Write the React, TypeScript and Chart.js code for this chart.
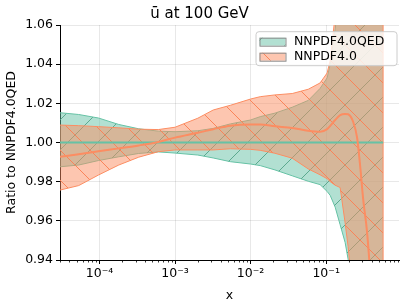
import React, { useEffect, useRef } from 'react';
import { Chart, registerables } from 'chart.js';

Chart.register(...registerables);

const chartTitle = 'ū at 100 GeV';
const xAxisLabel = 'x';
const yAxisLabel = 'Ratio to NNPDF4.0QED';
const seriesLabels = ['NNPDF4.0QED', 'NNPDF4.0'];

const xValues = [
  3.0e-5, 5.3e-5, 9.7e-5, 1.8e-4, 3.3e-4, 6.0e-4, 1.0e-3, 2.0e-3, 3.2e-3, 5.4e-3,
  1.0e-2, 1.34e-2, 2.1e-2, 3.55e-2, 5.8e-2, 8.3e-2, 0.103, 0.113, 0.1315, 0.153,
  0.178, 0.195, 0.2275, 0.257, 0.281, 0.308, 0.348, 0.406, 0.567,
];

const qedUpper = [
  1.0152, 1.0143, 1.0125, 1.0092, 1.007, 1.0058, 1.0055, 1.006, 1.0072, 1.0095,
  1.0115, 1.0132, 1.015, 1.018, 1.0215, 1.0276, 1.033, 1.04, 1.058, 1.08,
  1.1, 1.1, 1.1, 1.1, 1.1, 1.1, 1.1, 1.1, 1.1,
];
const qedLower = [
  0.9876, 0.9885, 0.9908, 0.9927, 0.9944, 0.9952, 0.9946, 0.9936, 0.9921, 0.9902,
  0.989, 0.9882, 0.986, 0.983, 0.9802, 0.9785, 0.975, 0.973, 0.967, 0.958,
  0.949, 0.9405, 0.92, 0.9, 0.9, 0.9, 0.9, 0.9, 0.9,
];
const qedCentralX = [3.0e-5, 0.567];
const qedCentral = [1.0, 1.0];

const nnpdfCentral = [
  0.9927, 0.994, 0.9955, 0.997, 0.9985, 1.0003, 1.0025, 1.005, 1.0068, 1.0086,
  1.0092, 1.0092, 1.0083, 1.0074, 1.006, 1.0055, 1.0068, 1.0085, 1.0115, 1.014,
  1.0146, 1.0144, 1.0106, 1.0023, 0.9885, 0.9715, 0.954, 0.92, 0.85,
];
const nnpdfUpper = [
  1.0089, 1.0086, 1.0081, 1.0075, 1.0068, 1.0066, 1.0078, 1.0124, 1.0166, 1.019,
  1.0222, 1.0234, 1.0243, 1.025, 1.0272, 1.0304, 1.0355, 1.042, 1.065, 1.1,
  1.1, 1.1, 1.1, 1.1, 1.1, 1.1, 1.1, 1.1, 1.1,
];
const nnpdfLower = [
  0.9757, 0.978, 0.9834, 0.9885, 0.9925, 0.9953, 0.9962, 0.9962, 0.9962, 0.9968,
  0.9965, 0.996, 0.9945, 0.992, 0.9865, 0.9835, 0.9815, 0.98, 0.9782, 0.977,
  0.959, 0.947, 0.92, 0.9, 0.9, 0.9, 0.9, 0.9, 0.9,
];

const xMajorTicks = [1e-4, 1e-3, 1e-2, 1e-1];
const xTickLabels = ['10⁻⁴', '10⁻³', '10⁻²', '10⁻¹'];
const xMinorMultipliers = [2, 3, 4, 5, 6, 7, 8, 9];
const yTicks = [0.94, 0.96, 0.98, 1.0, 1.02, 1.04, 1.06];

const X_MIN = 3.0e-5;
const X_MAX = 0.92;
const Y_MIN = 0.94;
const Y_MAX = 1.06;

const FONT = "'DejaVu Sans', sans-serif";
const GREEN = '#66c2a5';
const RED = '#fc8d62';
const GREEN_FILL = 'rgba(102,194,165,0.5)';
const RED_FILL = 'rgba(252,141,98,0.5)';
const GREEN_HATCH = 'rgba(78,160,132,0.85)';
const RED_HATCH = 'rgba(252,130,85,0.95)';
const GRID = 'rgba(0,0,0,0.09)';

function makeHatch(ctx: CanvasRenderingContext2D, fill: string, line: string, rising: boolean) {
  const s = 30;
  const c = document.createElement('canvas');
  c.width = s;
  c.height = s;
  const g = c.getContext('2d')!;
  g.fillStyle = fill;
  g.fillRect(0, 0, s, s);
  g.strokeStyle = line;
  g.lineWidth = 1;
  g.beginPath();
  for (const o of [-s, 0, s]) {
    if (rising) {
      g.moveTo(o, s);
      g.lineTo(o + s, 0);
    } else {
      g.moveTo(o, 0);
      g.lineTo(o + s, s);
    }
  }
  g.stroke();
  return ctx.createPattern(c, 'repeat')!;
}

const pts = (xs: number[], ys: number[]) => xs.map((x, i) => ({ x, y: ys[i] }));

export default function App() {
  const ref = useRef<HTMLCanvasElement>(null);

  useEffect(() => {
    document.body.style.margin = '0';
    const canvas = ref.current!;
    const ctx = canvas.getContext('2d')!;
    const greenPattern = makeHatch(ctx, GREEN_FILL, GREEN_HATCH, true);
    const redPattern = makeHatch(ctx, RED_FILL, RED_HATCH, false);
    const patterns = [greenPattern, redPattern];
    const edgeColors = [GREEN, RED];

    const last = xValues.length - 1;
    const redEdge = [
      { x: xValues[last], y: nnpdfLower[last] },
      { x: xValues[last], y: nnpdfUpper[last] },
    ];

    const legendPlugin = {
      id: 'mplLegend',
      afterDraw(chart: any) {
        const c: CanvasRenderingContext2D = chart.ctx;
        const area = chart.chartArea;
        const right = area.right - 2;
        const w = 141;
        const left = right - w;
        const top = area.top + 6.7;
        const h = 34;
        c.save();
        c.beginPath();
        const r = 3;
        c.moveTo(left + r, top);
        c.lineTo(left + w - r, top);
        c.arcTo(left + w, top, left + w, top + r, r);
        c.lineTo(left + w, top + h - r);
        c.arcTo(left + w, top + h, left + w - r, top + h, r);
        c.lineTo(left + r, top + h);
        c.arcTo(left, top + h, left, top + h - r, r);
        c.lineTo(left, top + r);
        c.arcTo(left, top, left + r, top, r);
        c.closePath();
        c.fillStyle = 'rgba(255,255,255,0.8)';
        c.fill();
        c.strokeStyle = '#cccccc';
        c.lineWidth = 1;
        c.stroke();
        seriesLabels.forEach((label, i) => {
          const cy = top + 10 + i * 15;
          const px = left + 3.5;
          c.fillStyle = '#ffffff';
          c.fillRect(px, cy - 4, 26, 8);
          c.fillStyle = patterns[i];
          c.fillRect(px, cy - 4, 26, 8);
          c.strokeStyle = '#8c8c8c';
          c.lineWidth = 1;
          c.strokeRect(px + 0.5, cy - 3.5, 26, 8);
          c.fillStyle = '#000';
          c.font = `12.5px ${FONT}`;
          c.textAlign = 'left';
          c.textBaseline = 'middle';
          c.fillText(label, left + 38, cy);
        });
        c.restore();
      },
    };

    const minorTickPlugin = {
      id: 'minorTicks',
      afterDraw(chart: any) {
        const sc = chart.scales.x;
        const c: CanvasRenderingContext2D = chart.ctx;
        const bottom = chart.chartArea.bottom;
        c.save();
        c.strokeStyle = '#000';
        c.lineWidth = 0.8;
        sc.ticks.forEach((t: any) => {
          if (t.major) return;
          const x = Math.round(sc.getPixelForValue(t.value)) + 0.5;
          c.beginPath();
          c.moveTo(x, bottom);
          c.lineTo(x, bottom + 2.5);
          c.stroke();
        });
        c.restore();
      },
    };

    const chart = new Chart(canvas, {
      type: 'line',
      data: {
        datasets: [
          {
            label: seriesLabels[1],
            data: pts(xValues, nnpdfCentral),
            borderColor: RED,
            borderWidth: 2,
            cubicInterpolationMode: 'monotone',
            fill: false,
            order: 0,
          },
          {
            label: seriesLabels[0],
            data: pts(qedCentralX, qedCentral),
            borderColor: GREEN,
            borderWidth: 2,
            fill: false,
            order: 1,
          },
          {
            label: seriesLabels[1] + ' edge',
            data: redEdge,
            borderColor: RED,
            borderWidth: 1,
            fill: false,
            order: 2,
          },
          {
            label: seriesLabels[1] + ' upper',
            data: pts(xValues, nnpdfUpper),
            borderColor: RED,
            borderWidth: 1,
            backgroundColor: redPattern,
            fill: '+1',
            order: 3,
          },
          {
            label: seriesLabels[1] + ' lower',
            data: pts(xValues, nnpdfLower),
            borderColor: RED,
            borderWidth: 1,
            fill: false,
            order: 4,
          },
          {
            label: seriesLabels[0] + ' upper',
            data: pts(xValues, qedUpper),
            borderColor: edgeColors[0],
            borderWidth: 1,
            backgroundColor: greenPattern,
            fill: '+1',
            order: 5,
          },
          {
            label: seriesLabels[0] + ' lower',
            data: pts(xValues, qedLower),
            borderColor: edgeColors[0],
            borderWidth: 1,
            fill: false,
            order: 6,
          },
        ],
      } as any,
      options: {
        responsive: false,
        animation: false,
        events: [],
        layout: { padding: { left: 0, right: 8, top: 0, bottom: 0 } },
        elements: { point: { radius: 0 }, line: { tension: 0 } },
        plugins: {
          legend: { display: false },
          tooltip: { enabled: false },
          title: {
            display: true,
            text: chartTitle,
            color: '#000',
            font: { family: FONT, size: 15, weight: 'normal' },
            padding: { top: 5, bottom: 2 },
          },
        },
        scales: {
          x: {
            type: 'logarithmic',
            min: X_MIN,
            max: X_MAX,
            afterFit: (s: any) => {
              s.height = 45;
            },
            afterBuildTicks: (s: any) => {
              const ticks: any[] = [];
              for (let e = -5; e <= 0; e++) {
                const base = Math.pow(10, e);
                const mj = xMajorTicks.find((m) => Math.abs(m / base - 1) < 1e-9);
                if (base >= X_MIN && base <= X_MAX && mj !== undefined) ticks.push({ value: base, major: true });
                for (const k of xMinorMultipliers) {
                  const v = k * base;
                  if (v > X_MIN && v < X_MAX) ticks.push({ value: v, major: false });
                }
              }
              ticks.sort((a, b) => a.value - b.value);
              s.ticks = ticks;
            },
            ticks: {
              autoSkip: false,
              maxRotation: 0,
              minRotation: 0,
              padding: 2,
              color: '#000',
              font: { family: FONT, size: 12.5 },
              callback: (v: any) => {
                const i = xMajorTicks.findIndex((m) => Math.abs(Number(v) / m - 1) < 1e-6);
                return i >= 0 ? xTickLabels[i] : '';
              },
            },
            grid: {
              color: (c: any) => (c.tick && c.tick.major ? GRID : 'rgba(0,0,0,0)'),
              tickColor: (c: any) => (c.tick && c.tick.major ? '#000' : 'rgba(0,0,0,0)'),
              tickLength: 4,
              lineWidth: 1,
            },
            border: { display: true, color: '#000', width: 1 },
            title: {
              display: true,
              text: xAxisLabel,
              color: '#000',
              font: { family: FONT, size: 12.5 },
              padding: { top: 0, bottom: 2 },
            },
          },
          y: {
            type: 'linear',
            min: Y_MIN,
            max: Y_MAX,
            afterFit: (s: any) => {
              s.width = 60;
            },
            afterBuildTicks: (s: any) => {
              s.ticks = yTicks.map((v) => ({ value: v }));
            },
            ticks: {
              padding: 3,
              color: '#000',
              font: { family: FONT, size: 12.5 },
              callback: (v: any) => Number(v).toFixed(2),
            },
            grid: {
              color: GRID,
              tickColor: '#000',
              tickLength: 4,
              lineWidth: 1,
            },
            border: { display: true, color: '#000', width: 1 },
            title: {
              display: true,
              text: yAxisLabel,
              color: '#000',
              font: { family: FONT, size: 12.5 },
              padding: { top: 4, bottom: 0 },
            },
          },
        },
      } as any,
      plugins: [legendPlugin, minorTickPlugin],
    });

    return () => chart.destroy();
  }, []);

  return (
    <div style={{ width: 407, height: 305 }}>
      <canvas ref={ref} width={407} height={305} style={{ display: 'block' }} />
    </div>
  );
}
